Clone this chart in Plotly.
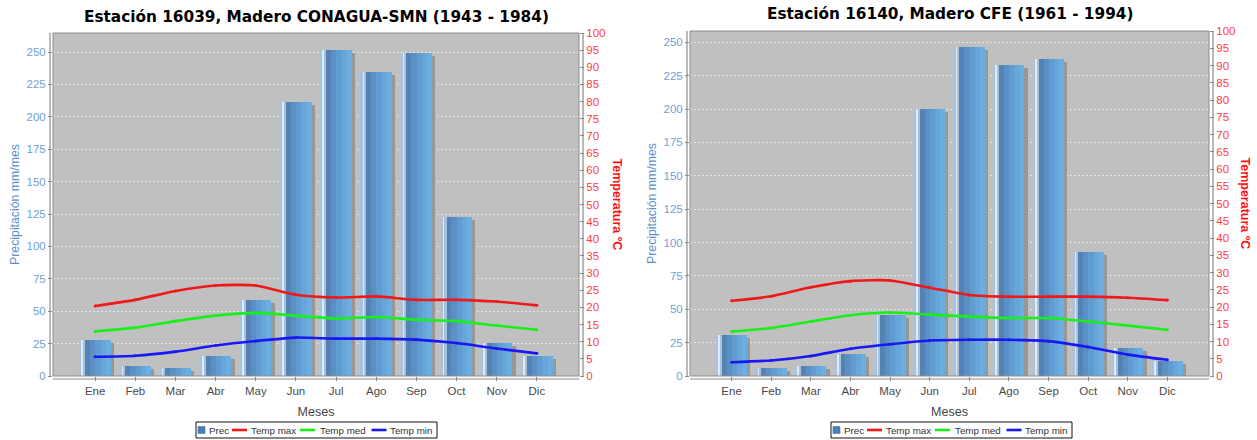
import plotly.graph_objects as go
from plotly.subplots import make_subplots

meses = ["Ene", "Feb", "Mar", "Abr", "May", "Jun", "Jul", "Ago", "Sep", "Oct", "Nov", "Dic"]

titulo_16039 = "Estación 16039, Madero CONAGUA-SMN (1943 - 1984)"
prec_16039 = [27.5, 7.7, 6.4, 15.2, 58.6, 211.4, 251.3, 234.6, 249.2, 122.4, 25.7, 15.4]
tmax_16039 = [20.4, 22.2, 24.8, 26.4, 26.4, 23.7, 22.9, 23.2, 22.2, 22.2, 21.7, 20.6]
tmed_16039 = [13.0, 14.1, 16.0, 17.6, 18.4, 17.6, 16.8, 17.2, 16.4, 16.0, 14.7, 13.5]
tmin_16039 = [5.6, 5.9, 7.1, 8.9, 10.2, 11.2, 10.9, 10.9, 10.6, 9.6, 8.0, 6.6]

titulo_16140 = "Estación 16140, Madero CFE (1961 - 1994)"
prec_16140 = [30.5, 6.0, 7.8, 16.2, 45.7, 199.8, 246.7, 232.8, 237.5, 93.0, 20.8, 11.3]
tmax_16140 = [21.8, 23.1, 25.7, 27.5, 27.7, 25.6, 23.5, 23.0, 23.0, 23.0, 22.7, 22.0]
tmed_16140 = [12.9, 13.9, 15.8, 17.6, 18.4, 17.8, 17.2, 16.8, 16.8, 15.8, 14.6, 13.4]
tmin_16140 = [4.0, 4.5, 5.8, 7.9, 9.2, 10.3, 10.5, 10.5, 10.1, 8.4, 6.2, 4.7]

prec_ticks = [0, 25, 50, 75, 100, 125, 150, 175, 200, 225, 250]
temp_ticks = list(range(0, 101, 5))
series_names = ["Temp max", "Temp med", "Temp min"]
series_colors = ["#f01818", "#18f018", "#1818f5"]

W, H = 1257, 440
FONT = "Liberation Sans"
BLUE_TXT = "#6f9fd6"
RED_TXT = "#ff3c3c"
AX_GRAY = "#8a8a8a"
PREC_COLOR = "#4a80b8"


def px(v):
    return v / W


def py(v):
    return 1 - v / H


# plot-area geometry in pixels (left chart, right chart)
panels = [
    dict(x0=53, x1=579, y0=33, y1=376, ymax=264.7, title=titulo_16039, tit_y=17, leg_x=196,
         rt_x=617, prec=prec_16039, temps=[tmax_16039, tmed_16039, tmin_16039]),
    dict(x0=690, x1=1209, y0=31, y1=376, ymax=258.5, title=titulo_16140, tit_y=14, leg_x=831,
         rt_x=1245, prec=prec_16140, temps=[tmax_16140, tmed_16140, tmin_16140]),
]

BAR_START = -0.38
BAR_W = 0.77
strips = [
    (0.00, 0.05, "#a3c4e4"),
    (0.05, 0.12, "#e2e9f0"),
    (0.12, 0.17, "#a9c1d8"),
    (0.17, 0.33, "#5283b4"),
    (0.33, 0.50, "#5a90c4"),
    (0.50, 0.67, "#619cd0"),
    (0.67, 0.84, "#67a6da"),
    (0.84, 1.00, "#6cade2"),
]

fig = make_subplots(rows=1, cols=2, specs=[[{"secondary_y": True}, {"secondary_y": True}]])

for ci, p in enumerate(panels):
    col = ci + 1
    cat_px = (p["x1"] - p["x0"]) / 13.1
    sh_x = 3.3 / cat_px
    sh_y = 3.0 * p["ymax"] / (p["y1"] - p["y0"])
    fig.add_trace(go.Bar(x=meses, y=p["prec"], base=[-sh_y] * len(meses),
                         offset=BAR_START + sh_x, width=BAR_W,
                         marker=dict(color="#979797", line=dict(width=0)),
                         showlegend=False, hoverinfo="skip"),
                  row=1, col=col, secondary_y=False)
    fig.add_trace(go.Bar(x=meses, y=p["prec"], name="Prec", offset=BAR_START, width=BAR_W,
                         marker=dict(color=PREC_COLOR, line=dict(width=0)), showlegend=False),
                  row=1, col=col, secondary_y=False)
    for a, b, c in strips:
        fig.add_trace(go.Bar(x=meses, y=p["prec"], offset=BAR_START + a * BAR_W,
                             width=(b - a) * BAR_W,
                             marker=dict(color=c, line=dict(width=0)),
                             showlegend=False, hoverinfo="skip"),
                      row=1, col=col, secondary_y=False)
    for name, vals, color in zip(series_names, p["temps"], series_colors):
        fig.add_trace(go.Scatter(x=meses, y=vals, name=name, mode="lines+markers",
                                 line=dict(color=color, width=2.6, shape="spline", smoothing=0.6),
                                 marker=dict(size=3, color=color), showlegend=False),
                      row=1, col=col, secondary_y=True)

fig.update_layout(barmode="overlay", bargap=0)

axes = [("xaxis", "yaxis", "yaxis2", "x", "y"), ("xaxis2", "yaxis3", "yaxis4", "x2", "y3")]
shapes = []
annotations = []
for (xa, ya, ya2, xref, yref), p in zip(axes, panels):
    dx = [px(p["x0"]), px(p["x1"])]
    dy = [py(p["y1"]), py(p["y0"])]
    pw = p["x1"] - p["x0"]
    ph = p["y1"] - p["y0"]
    fig.layout[xa].update(
        domain=dx, type="category", categoryorder="array", categoryarray=meses,
        range=[-1.05, 12.05], showgrid=False, showline=False, zeroline=False, automargin=False,
        ticks="outside", ticklen=4, tickcolor=AX_GRAY,
        tickfont=dict(family=FONT, size=11.5, color="#4a4a4a"),
        title=dict(text="Meses", font=dict(family=FONT, size=12.5, color="#444444"), standoff=11),
    )
    fig.layout[ya].update(
        domain=dy, range=[0, p["ymax"]], tickvals=prec_ticks, showline=False, zeroline=False,
        automargin=False, ticks="outside", ticklen=4, tickcolor=AX_GRAY,
        tickfont=dict(family=FONT, size=11.5, color=BLUE_TXT),
        showgrid=True, gridcolor="#e4e4e4", griddash="2px,2px", gridwidth=1,
        title=dict(text="Precipitación mm/mes", font=dict(family=FONT, size=12.3, color="#5b8fcb"),
                   standoff=4),
    )
    fig.layout[ya2].update(
        domain=dy, range=[0, 100], tickvals=temp_ticks, showline=False, zeroline=False,
        automargin=False, ticks="outside", ticklen=4, tickcolor=AX_GRAY, showgrid=False,
        tickfont=dict(family=FONT, size=11.5, color=RED_TXT),
    )
    xd = xref + " domain"
    yd = yref + " domain"
    shapes.append(dict(type="rect", xref=xd, yref=yd, x0=0, x1=1, y0=0, y1=1,
                       line=dict(color="#8c8c8c", width=1), layer="above"))
    shapes.append(dict(type="line", xref=xd, yref=yd, x0=-3 / pw, x1=-3 / pw, y0=0, y1=1,
                       line=dict(color=AX_GRAY, width=1.2)))
    shapes.append(dict(type="line", xref=xd, yref=yd, x0=1 + 4 / pw, x1=1 + 4 / pw, y0=0, y1=1,
                       line=dict(color=AX_GRAY, width=1.2)))
    shapes.append(dict(type="line", xref=xd, yref=yd, x0=0, x1=1, y0=-3 / ph, y1=-3 / ph,
                       line=dict(color=AX_GRAY, width=1.2)))
    annotations.append(dict(text="<b>" + p["title"] + "</b>", xref="paper", yref="paper",
                            x=px((p["x0"] + p["x1"]) / 2), y=py(p["tit_y"]),
                            xanchor="center", yanchor="middle", showarrow=False,
                            font=dict(family="DejaVu Sans", size=15.3, color="#000000")))
    annotations.append(dict(text="<b>Temperatura ºC</b>", xref="paper", yref="paper",
                            x=px(p["rt_x"]), y=py((p["y0"] + p["y1"]) / 2),
                            xanchor="center", yanchor="middle", textangle=90, showarrow=False,
                            font=dict(family=FONT, size=12.5, color="#ff1010")))

    # compact legend box (shapes + text), centred under each chart
    lx = p["leg_x"]
    shapes.append(dict(type="rect", xref="paper", yref="paper", x0=px(lx), x1=px(lx + 241),
                       y0=py(438), y1=py(422), line=dict(color="#111111", width=1),
                       fillcolor="#ffffff", layer="above"))
    shapes.append(dict(type="rect", xref="paper", yref="paper", x0=px(lx + 2), x1=px(lx + 9),
                       y0=py(433.5), y1=py(426.5), line=dict(color="#3f73a8", width=0.6),
                       fillcolor=PREC_COLOR, layer="above"))
    annotations.append(dict(text="Prec", xref="paper", yref="paper", x=px(lx + 11), y=py(430),
                            xanchor="left", yanchor="middle", showarrow=False,
                            font=dict(family=FONT, size=9.8, color="#333333")))
    for (l0, l1, tx), name, color in zip([(36, 51, 53), (104, 119, 121.5), (175.5, 190.5, 192)],
                                         series_names, series_colors):
        shapes.append(dict(type="line", xref="paper", yref="paper", x0=px(lx + l0), x1=px(lx + l1),
                           y0=py(430), y1=py(430), line=dict(color=color, width=2.6), layer="above"))
        annotations.append(dict(text=name, xref="paper", yref="paper", x=px(lx + tx), y=py(430),
                                xanchor="left", yanchor="middle", showarrow=False,
                                font=dict(family=FONT, size=9.8, color="#333333")))

fig.update_layout(
    shapes=shapes, annotations=annotations, showlegend=False,
    width=W, height=H, margin=dict(l=0, r=0, t=0, b=0, autoexpand=False),
    paper_bgcolor="#ffffff", plot_bgcolor="#c0c0c0",
    font=dict(family=FONT),
)

fig.write_html("out.html", config={"displayModeBar": False},
               post_script="document.body.style.margin='0px';")
